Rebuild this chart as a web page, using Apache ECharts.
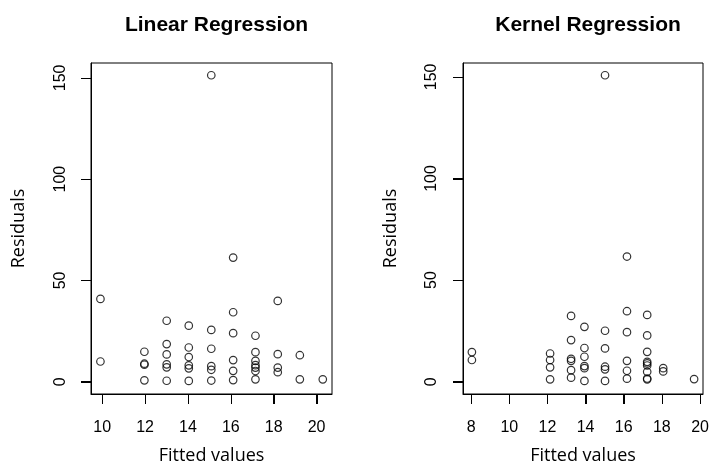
<!DOCTYPE html>
<html>
<head>
<meta charset="utf-8">
<script src="https://cdn.jsdelivr.net/npm/echarts@6/dist/echarts.min.js"></script>
<style>html,body{margin:0;padding:0;background:#fff}#c{width:710px;height:466px}#err{position:absolute;left:0;top:0;font:10px monospace;color:red}</style>
</head>
<body>
<div id="c"></div>
<div id="err"></div>
<script>
window.onerror = function (m) { document.getElementById('err').textContent += ' ' + m; };
// Linear regression: fitted values vs residuals
var linFitted = [9.92, 9.92,
  11.97, 11.97, 11.97, 11.97,
  13.01, 13.01, 13.01, 13.01, 13.01, 13.01,
  14.04, 14.04, 14.04, 14.04, 14.04, 14.04,
  15.09, 15.09, 15.09, 15.09, 15.09, 15.09,
  16.11, 16.11, 16.11, 16.11, 16.11, 16.11,
  17.15, 17.15, 17.15, 17.15, 17.15, 17.15, 17.15,
  18.19, 18.19, 18.19, 18.19,
  19.22, 19.22,
  20.29];
var linResid = [40.9, 10.0,
  14.8, 8.9, 8.4, 0.7,
  30.1, 18.6, 13.5, 8.6, 7.1, 0.5,
  27.7, 16.9, 12.2, 8.1, 6.6, 0.4,
  151.3, 25.6, 16.3, 7.7, 5.9, 0.6,
  61.3, 34.3, 24.0, 10.7, 5.4, 0.8,
  22.7, 14.6, 10.3, 8.2, 7.0, 5.3, 1.2,
  39.9, 13.6, 7.0, 4.7,
  13.1, 1.2,
  1.2];
// Kernel regression: fitted values vs residuals
var kerFitted = [8.04, 8.04,
  12.14, 12.14, 12.14, 12.14,
  13.24, 13.24, 13.24, 13.24, 13.24, 13.24,
  13.94, 13.94, 13.94, 13.94, 13.94, 13.94,
  15.02, 15.02, 15.02, 15.02, 15.02, 15.02,
  16.17, 16.17, 16.17, 16.17, 16.17, 16.17,
  17.23, 17.23, 17.23, 17.23, 17.23, 17.23, 17.23, 17.23, 17.23,
  18.07, 18.07,
  19.69];
var kerResid = [14.6, 10.7,
  13.9, 10.7, 7.1, 1.2,
  32.4, 20.5, 11.3, 10.3, 5.7, 2.0,
  27.0, 16.6, 12.3, 7.7, 6.7, 0.4,
  150.8, 25.1, 16.4, 7.4, 6.1, 0.4,
  61.6, 34.7, 24.4, 10.3, 5.4, 1.5,
  32.9, 22.8, 14.7, 9.8, 9.0, 8.0, 4.9, 1.6, 1.2,
  6.7, 5.1,
  1.3];
var linXTicks = [10, 12, 14, 16, 18, 20];
var kerXTicks = [8, 10, 12, 14, 16, 18, 20];
var yTicks = [0, 50, 100, 150];
// axis limits (R-style 4% padding around the data range)
var linXRange = [9.48, 20.72], linYRange = [-6.05, 157.35];
var kerXRange = [7.574, 20.156], kerYRange = [-6.03, 156.83];

function pairs(xs, ys) { return xs.map(function (x, i) { return [x, ys[i]]; }); }

function labelFont(extra) {
  var o = { fontFamily: 'Liberation Sans', fontSize: 16, color: '#000' };
  for (var k in extra) o[k] = extra[k];
  return o;
}
var nameFont = { fontFamily: 'Open Sans', fontSize: 18, color: '#000' };
var TICK_LEN = 10;

function xAxis(idx, range, ticks) {
  return {
    type: 'value', gridIndex: idx, min: range[0], max: range[1],
    splitLine: { show: false },
    axisLine: { show: true, onZero: false, lineStyle: { color: '#000' } },
    axisTick: { show: true, inside: false, length: TICK_LEN, customValues: ticks, lineStyle: { color: '#000', width: 1 } },
    axisLabel: labelFont({ customValues: ticks, margin: 26 }),
    name: 'Fitted values', nameLocation: 'middle', nameGap: 53, nameTextStyle: nameFont
  };
}
function yAxis(idx, range, margin) {
  return {
    type: 'value', gridIndex: idx, min: range[0], max: range[1],
    splitLine: { show: false },
    axisLine: { show: true, onZero: false, lineStyle: { color: '#000' } },
    axisTick: { show: true, inside: false, length: TICK_LEN, customValues: yTicks, lineStyle: { color: '#000', width: 1 } },
    axisLabel: labelFont({ customValues: yTicks, margin: margin, rotate: 90 }),
    name: 'Residuals', nameLocation: 'middle', nameGap: 63, nameTextStyle: nameFont
  };
}
var marker = {
  symbol: 'circle', symbolSize: 7.5,
  itemStyle: { color: 'rgba(255,255,255,0)', borderColor: '#000', borderWidth: 1.2 }
};

var chart = echarts.init(document.getElementById('c'));
chart.setOption({
  animation: false,
  title: [
    { text: 'Linear Regression', left: 211.5, top: 10, textAlign: 'center',
      textStyle: { fontFamily: 'Liberation Sans', fontWeight: 'bold', fontSize: 21, color: '#000' } },
    { text: 'Kernel Regression', left: 583, top: 10, textAlign: 'center',
      textStyle: { fontFamily: 'Liberation Sans', fontWeight: 'bold', fontSize: 21, color: '#000' } }
  ],
  grid: [
    { left: 91, top: 63, width: 241, height: 331, outerBoundsMode: 'none', containLabel: false,
      show: true, borderColor: '#000', borderWidth: 1 },
    { left: 463, top: 63, width: 240, height: 331, outerBoundsMode: 'none', containLabel: false,
      show: true, borderColor: '#000', borderWidth: 1 }
  ],
  xAxis: [xAxis(0, linXRange, linXTicks), xAxis(1, kerXRange, kerXTicks)],
  yAxis: [yAxis(0, linYRange, 22), yAxis(1, kerYRange, 23)],
  series: [
    Object.assign({ type: 'scatter', xAxisIndex: 0, yAxisIndex: 0, data: pairs(linFitted, linResid) }, marker),
    Object.assign({ type: 'scatter', xAxisIndex: 1, yAxisIndex: 1, data: pairs(kerFitted, kerResid) }, marker)
  ]
});

// Tick marks on a top layer: positions come from the library's scales (convertToPixel)
function ticksFor(xAxisIndex, xTicks, xRange, yRange) {
  var out = [];
  var finder = { xAxisIndex: xAxisIndex, yAxisIndex: xAxisIndex };
  xTicks.forEach(function (v) {
    var p = chart.convertToPixel(finder, [v, yRange[0]]);
    var x = Math.round(p[0]) + 0.5, y = Math.round(p[1]);
    out.push({ type: 'line', silent: true, z: 100, zlevel: 1,
      shape: { x1: x, y1: y, x2: x, y2: y + TICK_LEN }, style: { stroke: '#000', lineWidth: 1 } });
  });
  yTicks.forEach(function (v) {
    var p = chart.convertToPixel(finder, [xRange[0], v]);
    var x = Math.round(p[0]), y = Math.round(p[1]) + 0.5;
    out.push({ type: 'line', silent: true, z: 100, zlevel: 1,
      shape: { x1: x, y1: y, x2: x - TICK_LEN, y2: y }, style: { stroke: '#000', lineWidth: 1 } });
  });
  return out;
}
try {
  chart.setOption({
    graphic: { elements: ticksFor(0, linXTicks, linXRange, linYRange).concat(ticksFor(1, kerXTicks, kerXRange, kerYRange)) }
  });
} catch (e) {
  document.getElementById('err').textContent += ' ' + e.message;
}
</script>
</body>
</html>
